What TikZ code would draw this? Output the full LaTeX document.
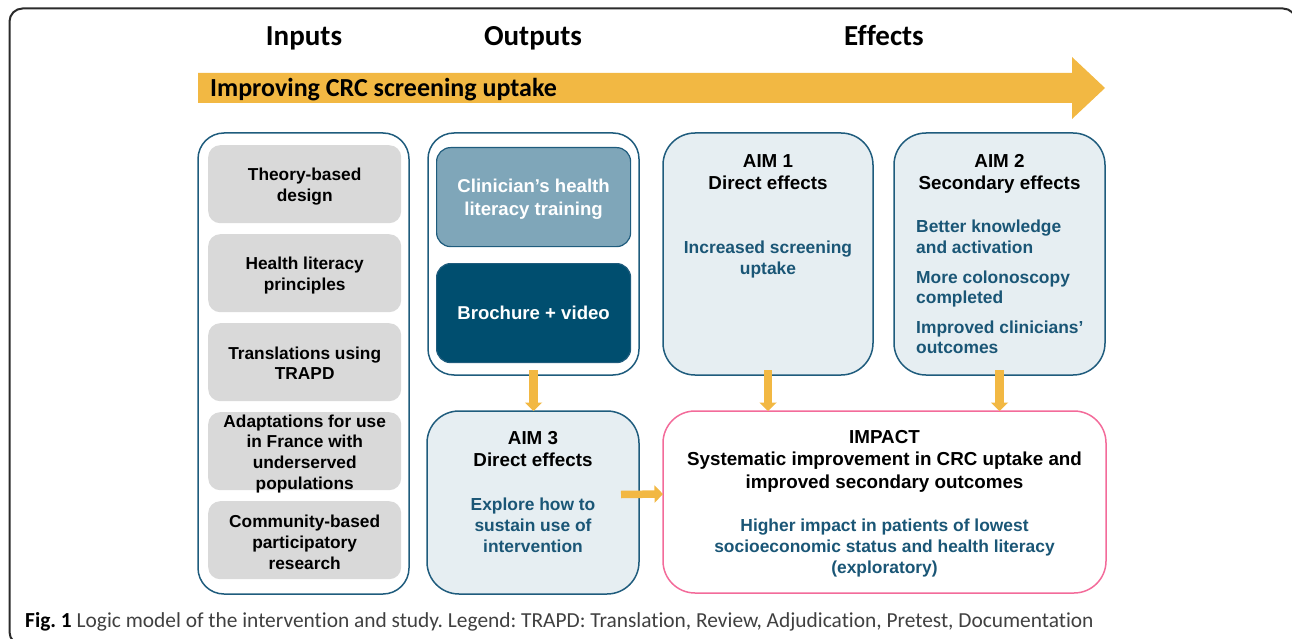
\documentclass[tikz,border=0pt]{standalone}
\usepackage{fontspec}
\setmainfont{Liberation Sans}
\newfontfamily\carl[Ligatures={NoCommon,NoRequired,NoContextual}]{Carlito}
\usetikzlibrary{arrows.meta}
\definecolor{bordc}{HTML}{1F5C7D}
\definecolor{tealt}{HTML}{1A5676}
\definecolor{lightc}{HTML}{E6EEF2}
\definecolor{clinc}{HTML}{7FA6B9}
\definecolor{brochc}{HTML}{004E6F}
\definecolor{grayc}{HTML}{D9D9D9}
\definecolor{arrowc}{HTML}{F2B843}
\definecolor{pinkc}{HTML}{F36B9A}
\definecolor{framec}{HTML}{2B2B2B}
\definecolor{captc}{HTML}{404040}
\tikzset{
  cont/.style={draw=bordc, line width=1.5pt, rounded corners=26pt, anchor=north west, inner sep=0pt, outer sep=0pt},
  aimbox/.style={cont, fill=lightc, rounded corners=32pt},
  grayb/.style={fill=grayc, rounded corners=12pt, anchor=north west, minimum width=193pt, minimum height=78pt, inner sep=0pt},
  graytxt/.style={align=center, inner sep=0pt, font=\fontsize{17.3}{20.7}\selectfont\bfseries},
  outb/.style={draw=bordc, line width=1.2pt, rounded corners=14pt, anchor=north west, minimum width=194pt, minimum height=99pt, inner sep=0pt},
  outtxt/.style={align=center, inner sep=0pt, text=white, font=\fontsize{18.6}{23}\selectfont\bfseries},
  head/.style={align=center, font=\fontsize{18.8}{22.5}\selectfont\bfseries, text=black, inner sep=0pt},
  bluet/.style={align=center, font=\fontsize{17.4}{20.8}\selectfont\bfseries, text=tealt, inner sep=0pt},
  flow/.style={draw=arrowc, line width=8.5pt, -{Triangle[width=17pt,length=8.5pt]}},
  colhead/.style={font=\carl\bfseries\fontsize{29}{30}\selectfont, anchor=base, inner sep=0pt},
}
\begin{document}
\frenchspacing
\begin{tikzpicture}[x=1pt,y=-1pt]
\useasboundingbox (0,0) rectangle (1292,639);
\begin{scope}
\clip (0,0) rectangle (1292,639);
\draw[framec, line width=2pt, rounded corners=13pt] (9.5,8.5) rectangle (1296,645);
\end{scope}
% column headings
\node[colhead] (hin) at (304,45.5) {Inputs};
\node[colhead] (hout) at (533,46) {Outputs};
\node[colhead] (heff) at (884,45.5) {Effects};
% big arrow
\fill[arrowc] (198,73) -- (1072,73) -- (1072,57) -- (1105,88) -- (1072,119) -- (1072,103) -- (198,103) -- cycle;
\node[anchor=base west, inner sep=0pt, font=\carl\bfseries\fontsize{26}{28}\selectfont] (band) at (210,97) {Improving CRC screening uptake};
% containers
\node[cont, minimum width=211pt, minimum height=461pt] (inp) at (198,133) {};
\node[cont, minimum width=211pt, minimum height=242pt] (outc) at (428,133) {};
\node[aimbox, minimum width=210pt, minimum height=242pt] (aim1) at (663,133) {};
\node[aimbox, minimum width=211pt, minimum height=242pt] (aim2) at (894,133) {};
\node[aimbox, minimum width=212pt, minimum height=183pt] (aim3) at (427,411) {};
\node[cont, draw=pinkc, fill=white, rounded corners=32pt, minimum width=443pt, minimum height=182pt] (impact) at (663,411) {};
% inputs
\node[grayb] (in1) at (208,145) {};
\node[grayb] (in2) at (208,234) {};
\node[grayb] (in3) at (208,323) {};
\node[grayb] (in4) at (208,412) {};
\node[grayb] (in5) at (208,501) {};
\node[graytxt] (t1) at ([yshift=-2.5pt]in1.center) {Theory-based\\design};
\node[graytxt] (t2) at ([yshift=-2.5pt]in2.center) {Health literacy\\principles};
\node[graytxt] (t3) at ([yshift=-1pt]in3.center) {Translations using\\TRAPD};
\node[graytxt] (t4) at ([yshift=-2.5pt]in4.center) {Adaptations for use\\in France with\\underserved\\populations};
\node[graytxt] (t5) at ([yshift=-2pt]in5.center) {Community-based\\participatory\\research};
% outputs
\node[outb, fill=clinc] (clin) at (436,147) {};
\node[outb, fill=brochc] (broch) at (436,263) {};
\node[outtxt] (clint) at ([yshift=-2.5pt]clin.center) {Clinician’s health\\literacy training};
\node[outtxt] (brocht) at (broch.center) {Brochure + video};
% aim texts
\node[head] (a1h) at (768,172) {AIM 1\\Direct effects};
\node[bluet] (a1t) at (768,259.6) {Increased screening\\uptake};
\node[head] (a2h) at (999.5,174) {AIM 2\\Secondary effects};
\node[bluet, align=left, anchor=west] (a2t1) at (916,237) {Better knowledge\\and activation};
\node[bluet, align=left, anchor=west] (a2t2) at (916,289) {More colonoscopy\\completed};
\node[bluet, align=left, anchor=west] (a2t3) at (916,337.3) {Improved clinicians’\\outcomes};
\node[head] (a3h) at (533,448.8) {AIM 3\\Direct effects};
\node[bluet] (a3t) at (533,525) {Explore how to\\sustain use of\\intervention};
\node[head] (imh) at (884.5,461.3) {IMPACT\\Systematic improvement in CRC uptake and\\improved secondary outcomes};
\node[bluet] (imt) at (884.5,548) {Higher impact in patients of lowest\\socioeconomic status and health literacy\\(exploratory)};
% connectors
\draw[flow] ([yshift=5pt]outc.south) -- (outc.south |- aim3.north);
\draw[flow] ([yshift=5pt]aim1.south) -- (aim1.south |- impact.north);
\draw[flow] ([yshift=5pt]aim2.south) -- (aim2.south |- impact.north);
\draw[flow, line width=7.5pt] ([xshift=-18pt,yshift=8pt]aim3.east) -- ([yshift=8pt]impact.west);
% caption
\node[anchor=base west, inner sep=0pt, font=\carl\fontsize{21.4}{23}\selectfont, text=captc] (cap) at (25,627.3) {{\color{black}\bfseries Fig. 1} Logic model of the intervention and study. Legend: TRAPD: Translation, Review, Adjudication, Pretest, Documentation};
\end{tikzpicture}
\end{document}
